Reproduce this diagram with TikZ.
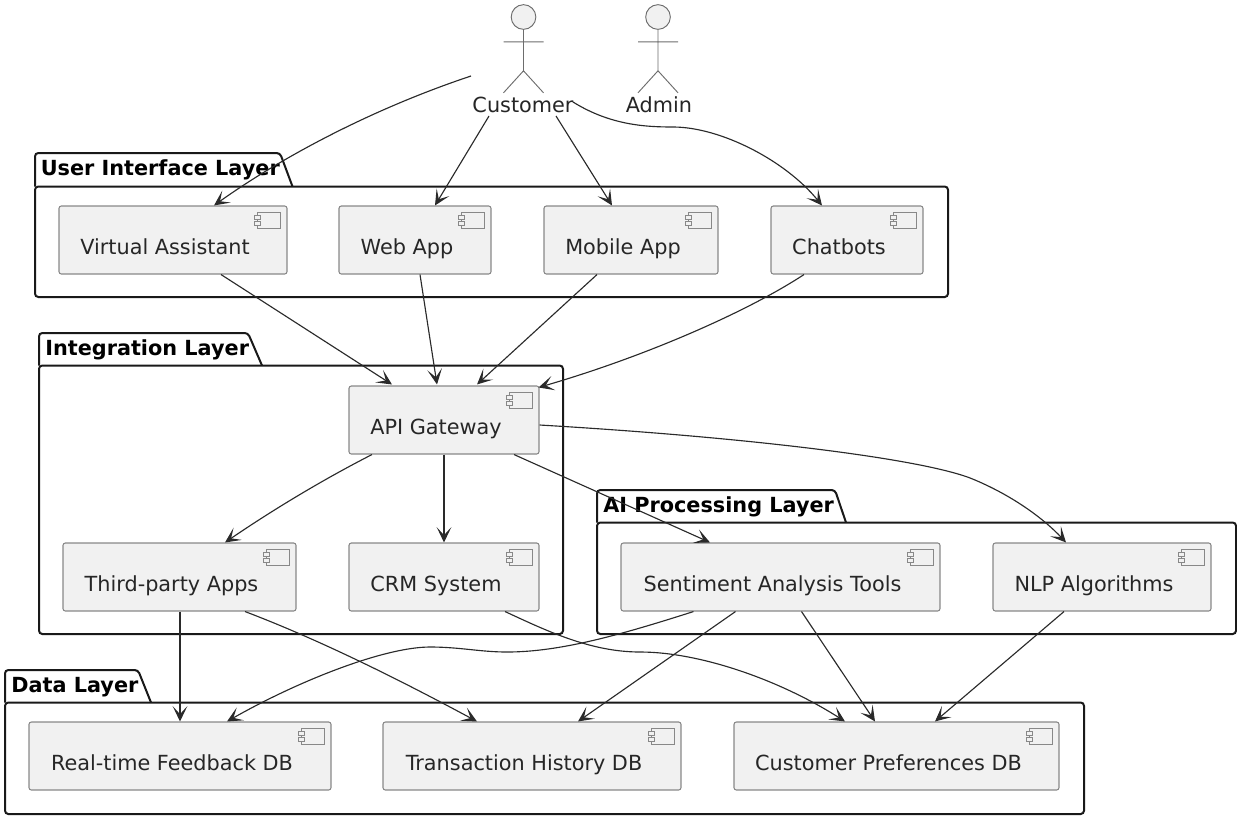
\documentclass[tikz,border=0pt]{standalone}
\usepackage{fontspec}
\setmainfont{DejaVu Sans}
\usetikzlibrary{arrows.meta}
\definecolor{boxfill}{HTML}{F1F1F1}
\definecolor{boxline}{HTML}{888888}
\definecolor{wire}{HTML}{2A2A2A}
\tikzset{
	comp/.style={draw=boxline,fill=boxfill,line width=0.8pt,rounded corners=1.8pt,inner sep=0pt,minimum height=51pt,text height=21pt,text depth=0pt,font=\fontsize{15.6pt}{18pt}\selectfont,text=black!85,execute at end node={\hspace*{12pt}}},
	layer/.style={draw=black!90,line width=1.5pt,rounded corners=2.5pt},
	layertitle/.style={anchor=base west,inner sep=0pt,font=\fontsize{15.6pt}{18pt}\selectfont\bfseries},
	actor/.style={draw=boxline!80!black,line width=0.7pt},
	actorname/.style={inner sep=0pt,font=\fontsize{15.6pt}{18pt}\selectfont,text=black!85},
	link/.style={draw=wire,line width=0.85pt,-{Stealth[length=11.5pt,width=11pt,inset=6pt]}}
}
\begin{document}
\begin{tikzpicture}[x=0.75pt,y=-0.75pt]
	\useasboundingbox (0,0) rectangle (1237,818);
	%LAYERS
	\draw[layer] (35,186.5) |- (280,153) -- (292.5,186.5);
	\draw[layer] (35,186.5) rectangle (948,297);
	\node[layertitle] (uititle) at (40.5,175) {User Interface Layer};
	\draw[layer] (39,365.5) |- (248,333) -- (262,365.5);
	\draw[layer] (39,365.5) rectangle (563,634);
	\node[layertitle] (inttitle) at (45,355) {Integration Layer};
	\draw[layer] (597,522.5) |- (835,490) -- (846,522.5);
	\draw[layer] (597,522.5) rectangle (1236,634);
	\node[layertitle] (aititle) at (603,512) {AI Processing Layer};
	\draw[layer] (5,702.5) |- (138,670) -- (151,702.5);
	\draw[layer] (5,702.5) rectangle (1084,814);
	\node[layertitle] (datatitle) at (11,692) {Data Layer};
	%ACTORS
	\foreach \a/\x/\t/\tx in {cust/523.5/Customer/523,adm/658/Admin/659}{
		\node[actor,circle,fill=boxfill,minimum size=18.5pt,inner sep=0pt] (\a) at (\x,17) {};
		\draw[actor] (\a.south) -- ++(0,41) (\a.south) ++(-20,12) -- ++(40,0)
			(\a.south) ++(-20,63) -- ++(20,-22) -- ++(20,22);
		\node[actorname,anchor=base] (\a name) at (\tx,112) {\t};
	}
	%COMPONENTS
	\node[comp,minimum width=171pt] (va) at (173,240) {Virtual Assistant};
	\node[comp,minimum width=114pt] (web) at (415,240) {Web App};
	\node[comp,minimum width=130.5pt] (mobile) at (631,240) {Mobile App};
	\node[comp,minimum width=114pt] (chat) at (847,240) {Chatbots};
	\node[comp,minimum width=142.5pt] (api) at (444,420) {API Gateway};
	\node[comp,minimum width=174.75pt] (third) at (179.5,577) {Third-party Apps};
	\node[comp,minimum width=142.5pt] (crm) at (444,577) {CRM System};
	\node[comp,minimum width=239.25pt] (sent) at (780.5,577) {Sentiment Analysis Tools};
	\node[comp,minimum width=163.5pt] (nlp) at (1102,577) {NLP Algorithms};
	\node[comp,minimum width=226.5pt] (rt) at (180,756) {Real-time Feedback DB};
	\node[comp,minimum width=223.5pt] (trans) at (532,756) {Transaction History DB};
	\node[comp,minimum width=243.75pt] (pref) at (896.5,756) {Customer Preferences DB};
	%ICONS
	\foreach \n in {va,web,mobile,chat,api,third,crm,sent,nlp,rt,trans,pref}{
		\draw[boxline,line width=0.8pt,fill=boxfill] ([shift={(-30,7.3)}]\n.north east) rectangle ([shift={(-7,22.7)}]\n.north east);
		\draw[boxline,line width=0.8pt,fill=boxfill] ([shift={(-33,10)}]\n.north east) rectangle ([shift={(-27,14)}]\n.north east);
		\draw[boxline,line width=0.8pt,fill=boxfill] ([shift={(-33,15.7)}]\n.north east) rectangle ([shift={(-27,19.7)}]\n.north east);
	}
	%LINKS
	\draw[link] ([shift={(-52,-36)}]custname.base) .. controls (375,108) and (285,155) .. ([shift={(41,0)}]va.north);
	\draw[link] ([shift={(-34,4)}]custname.base) -- ([shift={(20,0)}]web.north);
	\draw[link] ([shift={(33,4)}]custname.base) -- ([shift={(-19,0)}]mobile.north);
	\draw[link] ([shift={(50,-10)}]custname.base) .. controls (610,125) and (645,127) .. (673,127) .. controls (720,127) and (785,160) .. ([shift={(-25,0)}]chat.north);
	\draw[link] ([shift={(48,0)}]va.south) -- ([shift={(-52,-1)}]api.north);
	\draw[link] ([shift={(5,0)}]web.south) -- ([shift={(-7,-1)}]api.north);
	\draw[link] ([shift={(-34,0)}]mobile.south) -- ([shift={(33,-1)}]api.north);
	\draw[link] ([shift={(-43,0)}]chat.south) .. controls (750,310) and (650,355) .. ([shift={(-1,2)}]api.north east);
	\draw[link] ([shift={(-72,0)}]api.south) .. controls (330,476) and (280,505) .. ([shift={(45.5,0)}]third.north);
	\draw[link] (api.south) -- (crm.north);
	\draw[link] ([shift={(70,0)}]api.south) -- ([shift={(-70.5,0)}]sent.north);
	\draw[link] ([shift={(0,5)}]api.east) .. controls (760,438) and (930,460) .. (975,480) .. controls (1015,497) and (1045,520) .. ([shift={(-36,0)}]nlp.north);
	\draw[link] ([shift={(0.5,0)}]third.south) -- (rt.north);
	\draw[link] ([shift={(65.5,0)}]third.south) .. controls (320,640) and (400,680) .. ([shift={(-55,0)}]trans.north);
	\draw[link] ([shift={(-87,0)}]sent.south) .. controls (620,635) and (560,652) .. (507,652) .. controls (480,652) and (460,647) .. (430,647) .. controls (385,647) and (300,680) .. ([shift={(47,0)}]rt.north);
	\draw[link] ([shift={(-45,0)}]sent.south) -- ([shift={(46,0)}]trans.north);
	\draw[link] ([shift={(21,0)}]sent.south) -- ([shift={(-21.5,0)}]pref.north);
	\draw[link] ([shift={(-38,0)}]nlp.south) -- ([shift={(38.5,0)}]pref.north);
	\draw[link] ([shift={(61,0)}]crm.south) .. controls (545,630) and (590,652) .. (640,652) .. controls (700,652) and (780,680) .. ([shift={(-51.5,0)}]pref.north);
\end{tikzpicture}
\end{document}
